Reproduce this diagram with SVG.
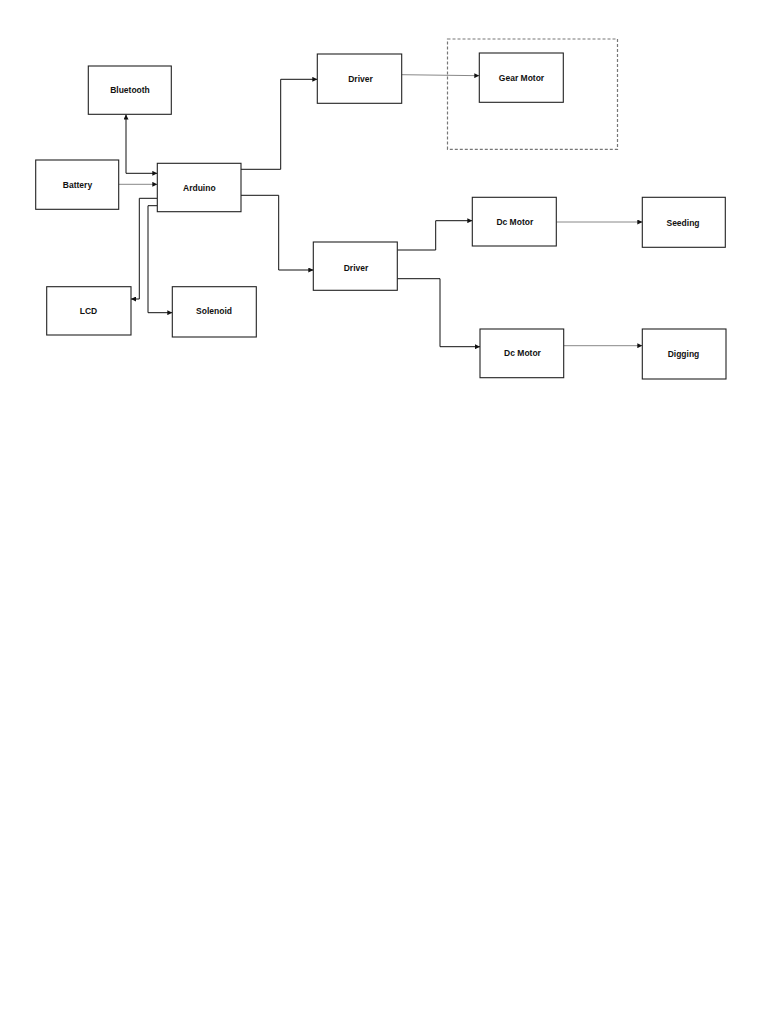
<svg xmlns="http://www.w3.org/2000/svg" width="768" height="1024" viewBox="0 0 768 1024">
<style>
.box{fill:#fff;stroke:#222;stroke-width:1.1}
.lbl{font-family:"Liberation Sans",Arial,sans-serif;font-size:8.5px;font-weight:bold;fill:#111;text-anchor:middle}
.ln{fill:none;stroke:#111;stroke-width:1}
.lg{fill:none;stroke:#888;stroke-width:1}
.dash{fill:none;stroke:#777;stroke-width:1.2;stroke-dasharray:3,2}
</style>
<defs>
<marker id="ah" viewBox="0 0 10 10" refX="10" refY="5" markerWidth="5" markerHeight="5" orient="auto-start-reverse" markerUnits="userSpaceOnUse">
<path d="M0,0 L10,5 L0,10 Z" fill="#111"/>
</marker>
</defs>
<rect width="768" height="1024" fill="#fff"/>
<g id="connectors">
<path class="ln" d="M126,114.5 V173.3 H157.3" marker-start="url(#ah)" marker-end="url(#ah)"/>
<path class="lg" d="M118.7,184.3 H157.3" marker-end="url(#ah)"/>
<path class="ln" d="M157.3,198.3 H139.3 V299 H131" marker-end="url(#ah)"/>
<path class="ln" d="M157.3,205.7 H148 V312.7 H172.3" marker-end="url(#ah)"/>
<path class="ln" d="M241,169.3 H280.7 V79.3 H317.3" marker-end="url(#ah)"/>
<path class="lg" d="M401.7,74.7 L479.3,75.7" marker-end="url(#ah)"/>
<path class="ln" d="M241,195.3 H278.7 V270 H313.3" marker-end="url(#ah)"/>
<path class="ln" d="M397.3,250 H435.7 V220.7 H472.3" marker-end="url(#ah)"/>
<path class="lg" d="M556.3,222 H642.3" marker-end="url(#ah)"/>
<path class="ln" d="M397.3,278.7 H440 V346.7 H480" marker-end="url(#ah)"/>
<path class="lg" d="M563.7,345.7 H642.3" marker-end="url(#ah)"/>
</g>
<rect class="dash" x="447.5" y="39" width="170" height="110.3"/>
<g id="bluetooth"><rect class="box" x="88.3" y="66" width="83" height="48.3"/><text class="lbl" x="130" y="93">Bluetooth</text></g>
<g id="battery"><rect class="box" x="35.7" y="160" width="83" height="49.3"/><text class="lbl" x="77.5" y="188">Battery</text></g>
<g id="arduino"><rect class="box" x="157.3" y="163.3" width="83.7" height="48.4"/><text class="lbl" x="199.3" y="190.5">Arduino</text></g>
<g id="lcd"><rect class="box" x="46.7" y="286.7" width="84.3" height="48.3"/><text class="lbl" x="88.5" y="314">LCD</text></g>
<g id="solenoid"><rect class="box" x="172.3" y="286.7" width="84" height="50.3"/><text class="lbl" x="214" y="314">Solenoid</text></g>
<g id="driver1"><rect class="box" x="317.3" y="54" width="84.4" height="49.3"/><text class="lbl" x="360.5" y="81.5">Driver</text></g>
<g id="gearmotor"><rect class="box" x="479.3" y="53" width="84" height="49.3"/><text class="lbl" x="521.5" y="80.5">Gear Motor</text></g>
<g id="driver2"><rect class="box" x="313.3" y="242" width="84" height="48.3"/><text class="lbl" x="356" y="271">Driver</text></g>
<g id="dcmotor1"><rect class="box" x="472.3" y="197.3" width="84" height="48.7"/><text class="lbl" x="514.8" y="224.5">Dc Motor</text></g>
<g id="seeding"><rect class="box" x="642.3" y="197.3" width="83" height="50"/><text class="lbl" x="683" y="225.5">Seeding</text></g>
<g id="dcmotor2"><rect class="box" x="480" y="329" width="83.7" height="48.7"/><text class="lbl" x="522.5" y="356">Dc Motor</text></g>
<g id="digging"><rect class="box" x="642.3" y="329" width="83.7" height="50"/><text class="lbl" x="683.5" y="357">Digging</text></g>
</svg>
